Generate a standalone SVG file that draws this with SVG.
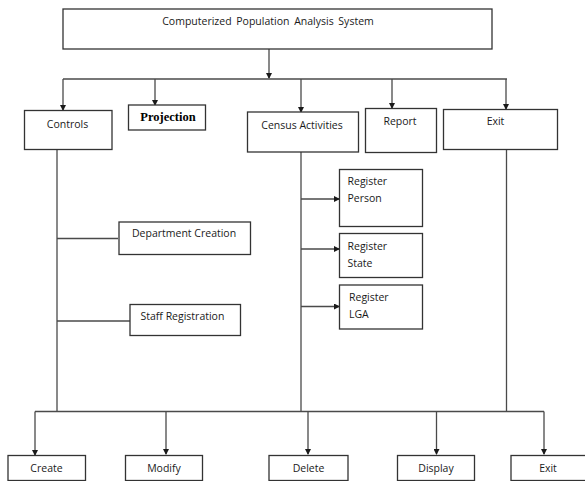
<svg xmlns="http://www.w3.org/2000/svg" width="585" height="481" viewBox="0 0 585 481">
  <defs>
    <marker id="arrow" markerWidth="6" markerHeight="6" refX="5" refY="3" orient="auto" markerUnits="userSpaceOnUse">
      <path d="M0,0 L6,3 L0,6 Z" fill="#1a1a1a"/>
    </marker>
    <style>
      .box { fill: #ffffff; stroke: #333333; stroke-width: 1.3; }
      .line { fill: none; stroke: #4a4a4a; stroke-width: 1.3; }
      .arr { fill: none; stroke: #4a4a4a; stroke-width: 1.3; marker-end: url(#arrow); }
      .lbl { font-family: "Open Sans", "Liberation Sans", sans-serif; font-size: 10.5px; fill: #1a1a1a; }
      .mid { text-anchor: middle; }
      .bold { font-family: "Liberation Serif", serif; font-size: 12.5px; font-weight: bold; fill: #000000; text-anchor: middle; }
    </style>
  </defs>
  <rect width="585" height="481" fill="#ffffff"/>

  <!-- connectors -->
  <g id="connectors">
    <!-- root to first level -->
    <line class="arr" x1="269" y1="49" x2="269" y2="78"/>
    <line class="line" x1="63" y1="79" x2="507" y2="79"/>
    <line class="arr" x1="63" y1="79" x2="63" y2="110"/>
    <line class="arr" x1="155" y1="79" x2="155" y2="105"/>
    <line class="arr" x1="301" y1="79" x2="301" y2="112"/>
    <line class="arr" x1="392" y1="79" x2="392" y2="108"/>
    <line class="arr" x1="506" y1="79" x2="506" y2="109"/>
    <!-- controls trunk and branches -->
    <line class="line" x1="57" y1="149" x2="57" y2="412"/>
    <line class="line" x1="57" y1="238.5" x2="118" y2="238.5"/>
    <line class="line" x1="57" y1="321" x2="130" y2="321"/>
    <!-- census trunk and branches -->
    <line class="line" x1="301" y1="152" x2="301" y2="412"/>
    <line class="arr" x1="301" y1="199" x2="339" y2="199"/>
    <line class="arr" x1="301" y1="249" x2="339" y2="249"/>
    <line class="arr" x1="301" y1="306.5" x2="339" y2="306.5"/>
    <!-- exit trunk -->
    <line class="line" x1="506.5" y1="149" x2="506.5" y2="412"/>
    <!-- bottom bus -->
    <line class="line" x1="35" y1="411.5" x2="544" y2="411.5"/>
    <line class="arr" x1="35" y1="411.5" x2="35" y2="455"/>
    <line class="arr" x1="166" y1="411.5" x2="166" y2="454"/>
    <line class="arr" x1="308" y1="411.5" x2="308" y2="454"/>
    <line class="arr" x1="436.5" y1="411.5" x2="436.5" y2="454"/>
    <line class="arr" x1="544" y1="411.5" x2="544" y2="454"/>
  </g>

  <g id="root">
    <rect class="box" x="63" y="9" width="429" height="40"/>
    <text class="lbl mid" x="268" y="25" word-spacing="2">Computerized Population Analysis System</text>
  </g>

  <g id="controls">
    <rect class="box" x="24.5" y="110.5" width="87.5" height="39"/>
    <text class="lbl mid" x="67.5" y="128">Controls</text>
  </g>

  <g id="projection">
    <rect class="box" x="128.5" y="105" width="77" height="25"/>
    <text class="bold" x="168" y="121">Projection</text>
  </g>

  <g id="census">
    <rect class="box" x="247.5" y="112" width="111" height="40"/>
    <text class="lbl mid" x="302" y="129">Census Activities</text>
  </g>

  <g id="report">
    <rect class="box" x="365.5" y="108.5" width="71" height="44"/>
    <text class="lbl mid" x="400" y="125">Report</text>
  </g>

  <g id="exit-top">
    <rect class="box" x="443.5" y="109.5" width="114" height="40"/>
    <text class="lbl mid" x="495.5" y="125">Exit</text>
  </g>

  <g id="department-creation">
    <rect class="box" x="119" y="222" width="131.5" height="32.5"/>
    <text class="lbl" x="132" y="237">Department Creation</text>
  </g>

  <g id="staff-registration">
    <rect class="box" x="130" y="304.5" width="110.5" height="31"/>
    <text class="lbl" x="140.5" y="320">Staff Registration</text>
  </g>

  <g id="register-person">
    <rect class="box" x="339.5" y="169.5" width="83" height="57"/>
    <text class="lbl" x="347.5" y="185">Register</text>
    <text class="lbl" x="347.5" y="202">Person</text>
  </g>

  <g id="register-state">
    <rect class="box" x="339.5" y="233.5" width="83" height="44"/>
    <text class="lbl" x="347.5" y="250">Register</text>
    <text class="lbl" x="347.5" y="267">State</text>
  </g>

  <g id="register-lga">
    <rect class="box" x="339.5" y="285" width="83" height="44"/>
    <text class="lbl" x="349" y="301">Register</text>
    <text class="lbl" x="349" y="318">LGA</text>
  </g>

  <g id="create">
    <rect class="box" x="8" y="455.5" width="77.5" height="25"/>
    <text class="lbl mid" x="46.5" y="472">Create</text>
  </g>

  <g id="modify">
    <rect class="box" x="125.5" y="455.5" width="77" height="25"/>
    <text class="lbl mid" x="164" y="472">Modify</text>
  </g>

  <g id="delete">
    <rect class="box" x="269" y="455.5" width="79" height="25"/>
    <text class="lbl mid" x="308.5" y="472">Delete</text>
  </g>

  <g id="display">
    <rect class="box" x="397.5" y="455.5" width="77" height="25"/>
    <text class="lbl mid" x="436" y="472">Display</text>
  </g>

  <g id="exit-bottom">
    <rect class="box" x="511" y="455.5" width="80" height="25"/>
    <text class="lbl mid" x="548" y="472">Exit</text>
  </g>
</svg>
